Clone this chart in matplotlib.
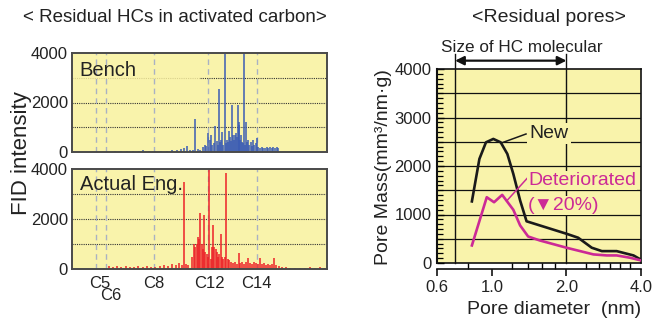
import matplotlib.pyplot as plt
import matplotlib.transforms as mtransforms
from matplotlib.ticker import FixedLocator, NullFormatter
import numpy as np

plt.rcParams['font.family'] = ['Liberation Sans', 'DejaVu Sans']

# --- chromatograms (retention time in min, FID intensity) ---
carbon_labels = ['C5', 'C6', 'C8', 'C12', 'C14']
carbon_times = [2.8, 4.0, 9.6, 16.05, 21.75]

bench_t = [5.0, 5.8, 6.5, 7.2, 7.9, 8.4, 9.0, 9.8, 10.5, 11.2, 11.8, 12.3, 12.8, 13.2,
           13.5, 13.9, 14.2, 14.5, 14.8, 15.1, 15.4, 15.6, 15.8, 16.0, 16.2, 16.35, 16.5,
           16.7, 16.8, 17.0, 17.15, 17.3, 17.45, 17.55, 17.65, 17.8, 18.0, 18.1, 18.25,
           18.4, 18.5, 18.6, 18.75, 18.86, 18.95, 19.05, 19.2, 19.3, 19.45, 19.55, 19.62,
           19.7, 19.8, 19.9, 20.0, 20.1, 20.24, 20.35, 20.5, 20.6, 20.7, 20.85, 21.0,
           21.15, 21.3, 21.45, 21.6, 21.75, 21.9, 22.1, 22.3, 22.5, 22.7, 22.9, 23.1,
           23.3, 23.5, 23.7, 23.9, 24.1, 24.2]
bench_h = [40, 40, 50, 40, 60, 80, 50, 40, 50, 60, 70, 90, 110, 150,
           250, 80, 100, 1350, 120, 100, 200, 300, 250, 750, 500, 700, 300,
           350, 1050, 450, 300, 2550, 400, 500, 800, 300, 3950, 350, 500,
           400, 850, 600, 450, 1900, 700, 500, 700, 750, 600, 1900, 1100,
           1200, 500, 700, 400, 350, 4000, 300, 1200, 400, 500, 300, 400,
           250, 500, 300, 350, 550, 200, 150, 200, 150, 180, 200, 150,
           220, 180, 200, 150, 200, 150]

actual_t = [3.8, 4.3, 4.8, 5.3, 5.8, 6.3, 6.8, 7.3, 7.8, 8.3, 8.8, 9.3, 9.8, 10.3,
            10.8, 11.3, 11.8, 12.2, 12.6, 12.9, 13.15, 13.4, 13.7, 14.1, 14.35, 14.5,
            14.7, 14.8, 14.95, 15.05, 15.25, 15.4, 15.55, 15.7, 15.85, 16.0, 16.15,
            16.3, 16.45, 16.6, 16.75, 16.9, 17.05, 17.2, 17.3, 17.5, 17.65, 17.8, 18.0,
            18.15, 18.3, 18.45, 18.7, 18.95, 19.2, 19.4, 19.6, 19.75, 20.0, 20.25, 20.5,
            20.7, 20.95, 21.2, 21.4, 21.65, 21.9, 22.1, 22.35, 22.6, 22.8, 23.05, 23.3,
            23.5, 23.75, 24.0, 24.35, 24.7, 25.2, 25.65, 26.25, 26.8, 27.4, 28.0, 28.6,
            29.2, 29.6]
actual_h = [60, 120, 100, 130, 90, 120, 100, 80, 110, 90, 120, 80, 100, 120,
            150, 130, 200, 180, 250, 150, 3500, 200, 150, 500, 1000, 900,
            1000, 1300, 1200, 2230, 1000, 800, 2150, 700, 600, 500, 4000,
            400, 900, 1760, 900, 800, 700, 500, 600, 1400, 500, 400, 500,
            3850, 400, 350, 300, 250, 300, 200, 630, 250, 300, 200, 300,
            430, 250, 200, 300, 250, 200, 450, 200, 250, 150, 200, 150,
            200, 430, 150, 120, 100, 80, 60, 50, 40, 50, 80, 60,
            70, 50]

# --- pore distribution ---
diam_new = [0.83, 0.89, 0.946, 1.013, 1.085, 1.154, 1.22, 1.30, 1.38, 2.0, 2.23, 2.53,
            2.78, 3.19, 3.73, 4.0]
mass_new = [1270, 2146, 2488, 2558, 2488, 2249, 1837, 1288, 860, 603, 521, 315,
            245, 245, 156, 68]
diam_det = [0.83, 0.953, 1.02, 1.10, 1.22, 1.30, 1.40, 1.56, 2.0, 2.57, 2.91, 3.19,
            3.61, 4.0]
mass_det = [362, 1356, 1253, 1405, 1097, 774, 547, 465, 315, 177, 156, 156,
            109, 53]

yellow = '#f9f3ab'
txt = '#222222'
W, H = 652, 324

fig = plt.figure(figsize=(W / 100, H / 100), dpi=100)
ax1 = fig.add_axes([72 / W, 1 - 152 / H, 255 / W, 99 / H])
ax2 = fig.add_axes([72 / W, 1 - 269 / H, 255 / W, 100 / H])
ax3 = fig.add_axes([437 / W, 1 - 263 / H, 204 / W, 194 / H])


def chrom(ax, t, h, color, label, y_lab):
    ax.set_facecolor(yellow)
    ax.set_xlim(0, 30)
    ax.set_ylim(0, 4000)
    for y in (1000, 2000):
        ax.axhline(y, color='#333333', lw=0.8, ls=(0, (1, 1)), zorder=1)
    for x in carbon_times:
        ax.axvline(x, color='#a9b1c4', lw=1.0, ls=(0, (4, 3)), zorder=1)
    ax.vlines(t, 0, h, color=color, lw=1.1, zorder=2)
    ax.set_xticks([])
    ax.set_yticks([0, 2000, 4000])
    ax.tick_params(axis='y', length=0, labelsize=12, pad=3, labelcolor=txt)
    for s in ax.spines.values():
        s.set_color('#4a4a4a')
        s.set_linewidth(1.4)
    ax.text(0.03, y_lab, label, transform=ax.transAxes, fontsize=14.5,
            color=txt, va='baseline', zorder=3)


chrom(ax1, bench_t, bench_h, '#3b5cb4', 'Bench', 0.77)
ax1.axhline(3000, xmin=0.5, color='#333333', lw=0.8, ls=(0, (1, 1)), zorder=1)
ax1.axhline(3000, xmax=0.5, color='#d9d18c', lw=0.8, ls=(0, (1, 1)), zorder=1)

chrom(ax2, actual_t, actual_h, '#ec2228', 'Actual Eng.', 0.79)
ax2.axhline(3000, color='#333333', lw=0.8, ls=(0, (1, 1)), zorder=1)

trans2 = mtransforms.blended_transform_factory(ax2.transData, ax2.transAxes)
lab_shift = [0.45, 0.6, 0, 0.1, 0]
lab_y = [-0.14, -0.27, -0.14, -0.14, -0.14]
for name, tc, dx, yy in zip(carbon_labels, carbon_times, lab_shift, lab_y):
    ax2.text(tc + dx, yy, name, transform=trans2, ha='center', va='center',
             fontsize=12, color=txt, clip_on=False)

fig.text(22 / W, 1 - 153 / H, 'FID intensity', rotation=90, fontsize=16,
         ha='center', va='center', color=txt)
fig.text(175 / W, 1 - 18 / H, '< Residual HCs in activated carbon>', fontsize=13.5,
         ha='center', va='center', color=txt)

# --- right chart ---
ax3.set_facecolor(yellow)
ax3.set_xscale('log')
ax3.set_xlim(0.6, 4.0)
ax3.set_ylim(0, 4000)
for y in range(500, 4000, 500):
    ax3.axhline(y, color='#111111', lw=0.9, zorder=1)
ax3.axhline(0, color='#111111', lw=1.2, zorder=1, clip_on=False)

trans3 = mtransforms.blended_transform_factory(ax3.transData, ax3.transAxes)
for xv in (0.71, 2.0):
    ax3.plot([xv, xv], [0, 1.075], color='#111111', lw=1.0, transform=trans3,
             clip_on=False, zorder=1)
ax3.annotate('', xy=(0.71, 1.043), xytext=(2.0, 1.043), xycoords=trans3,
             textcoords=trans3,
             arrowprops=dict(arrowstyle='<|-|>', color='#111111', lw=1.6,
                             mutation_scale=13, shrinkA=0, shrinkB=0))
ax3.text(1.32, 1.113, 'Size of HC molecular', transform=trans3, ha='center',
         va='center', fontsize=12.3, color=txt)

ax3.plot(diam_new, mass_new, color='#1a1a1a', lw=1.9, zorder=3)
ax3.plot(diam_det, mass_det, color='#cc2a96', lw=1.9, zorder=3)

ax3.plot([1.11, 1.373], [2488, 2660], color='#1a1a1a', lw=1.1, zorder=3)
ax3.text(1.42, 2667, 'New', fontsize=14, color=txt, ha='left', va='center', zorder=4,
         bbox=dict(facecolor=yellow, edgecolor='none', pad=1.5))
ax3.plot([1.147, 1.40], [1280, 1768], color='#cc2a96', lw=1.1, zorder=3)
ax3.text(1.40, 1700, 'Deteriorated', fontsize=14, color='#cc2a96', ha='left',
         va='center', zorder=4, bbox=dict(facecolor=yellow, edgecolor='none', pad=1))
ax3.text(1.40, 1185, '(\u25bc20%)', fontsize=14, color='#cc2a96', ha='left',
         va='center', zorder=4, bbox=dict(facecolor=yellow, edgecolor='none', pad=0.5))

ax3.spines['bottom'].set_position(('outward', 4))
for s in ax3.spines.values():
    s.set_color('#111111')
    s.set_linewidth(1.2)
ax3.spines['left'].set_linewidth(1.5)

ax3.xaxis.set_major_locator(FixedLocator([0.6, 1.0, 2.0, 4.0]))
ax3.set_xticklabels(['0.6', '1.0', '2.0', '4.0'])
ax3.xaxis.set_minor_locator(FixedLocator([0.8, 1.2, 1.4, 1.6, 1.8, 2.4, 2.7, 3.0, 3.3, 3.6]))
ax3.xaxis.set_minor_formatter(NullFormatter())
ax3.tick_params(axis='x', which='major', direction='out', length=5, width=1.1,
                labelsize=12, pad=3, labelcolor=txt)
ax3.tick_params(axis='x', which='minor', direction='in', length=4, width=1.0)

ax3.set_yticks(range(0, 4001, 1000))
ax3.yaxis.set_minor_locator(FixedLocator(list(range(0, 4001, 100))))
ax3.tick_params(axis='y', which='major', direction='in', length=5, width=1.0,
                labelsize=12, pad=4, labelcolor=txt)
ax3.tick_params(axis='y', which='minor', direction='in', length=4, width=0.9)

fig.text(383 / W, 1 - 167 / H, 'Pore Mass(mm\u00b3/nm\u00b7g)', rotation=90,
         fontsize=14, ha='center', va='center', color=txt)
fig.text(554 / W, 1 - 310 / H, 'Pore diameter  (nm)', fontsize=14,
         ha='center', va='center', color=txt)
fig.text(549 / W, 1 - 18 / H, '<Residual pores>', fontsize=14,
         ha='center', va='center', color=txt)

fig.savefig('out.png', dpi=100)
